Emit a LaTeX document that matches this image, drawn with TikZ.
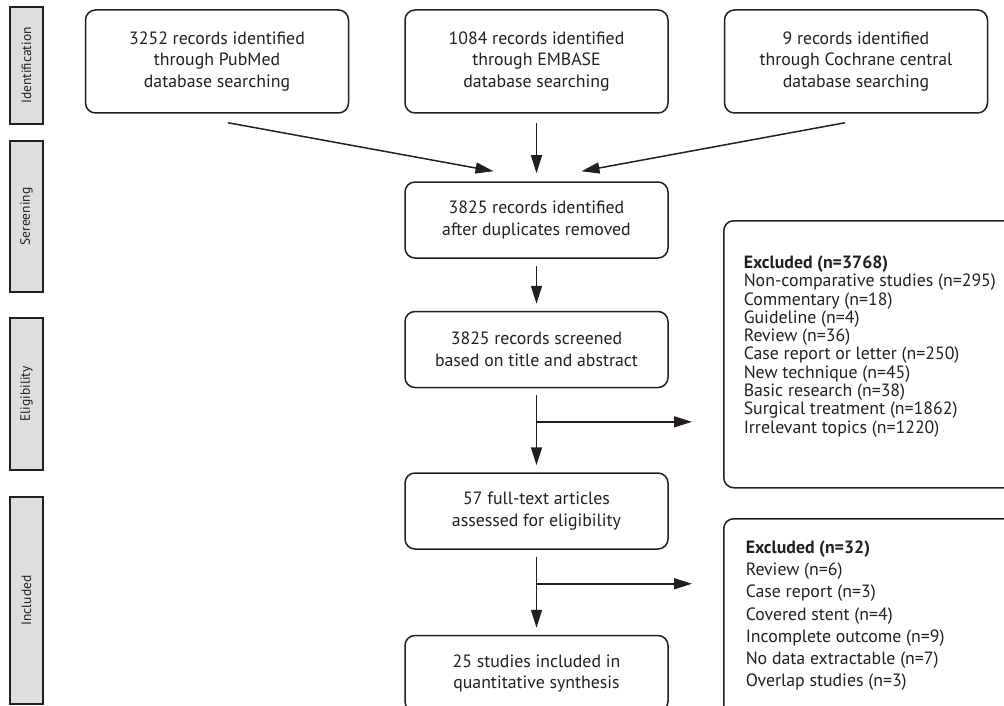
\documentclass[tikz,border=0pt]{standalone}
\usepackage{fontspec}
\setmainfont{PT Sans}
\usetikzlibrary{positioning, calc}
\usetikzlibrary{arrows, arrows.meta}
\tikzset{>={Triangle[length=18pt,width=11pt]}}
\definecolor{ink}{HTML}{231F20}
\colorlet{phasegray}{black!13}

\begin{document}
\begin{tikzpicture}[x=1pt, y=-1pt, line width=1.5pt, color=ink,
  box/.style={draw, rounded corners=10pt, minimum width=263pt, align=center, font=\fontsize{17.8}{21.5}\selectfont},
  phase/.style={draw, fill=phasegray, rotate=90, minimum height=33pt, inner sep=0pt, font=\fontsize{13.5}{15}\selectfont},
  excl/.style={draw, rounded corners=10pt, anchor=north west, minimum width=300pt},
  list/.style={anchor=north west, align=left, inner sep=0pt},
  flow/.style={->, shorten <=7pt, shorten >=7pt}]
  \useasboundingbox (0,0) rectangle (1004,706);

  % phases
  \node[phase, minimum width=117pt] (idphase) at (26.5,65.5) {Identification};
  \node[phase, minimum width=151pt] (scphase) at (26.5,216.5) {Sereening};
  \node[phase, minimum width=152pt] (elphase) at (26.5,394) {Eligibility};
  \node[phase, minimum width=207pt] (inphase) at (26.5,600.5) {Included};

  % sources
  \node[box, minimum height=103pt] (pubmed) at (217,61.5) {3252 records identified\\through PubMed\\database searching};
  \node[box, minimum height=103pt, right=55pt of pubmed] (embase) {1084 records identified\\through EMBASE\\database searching};
  \node[box, minimum height=103pt, right=55pt of embase] (cochrane) {9 records identified\\through Cochrane central\\database searching};

  % main flow
  \node[box, minimum height=76pt] (dedup) at (536.5,220) {3825 records identified\\after duplicates removed};
  \node[box, minimum height=76pt, below=52pt of dedup] (screen) {3825 records screened\\based on title and abstract};
  \node[box, minimum height=76pt, below=84pt of screen] (fulltext) {57 full-text articles\\assessed for eligibility};
  \node[box, minimum height=76pt, below=85pt of fulltext] (included) {25 studies included in\\quantitative synthesis};

  % exclusions
  \node[excl, minimum height=267pt] (excl1) at (723,220) {};
  \node[list, font=\fontsize{17.8}{18.3}\selectfont] (excl1txt) at (743,255) {\textbf{Excluded (n=3768)}\\Non-comparative studies (n=295)\\Commentary (n=18)\\Guideline (n=4)\\Review (n=36)\\Case report or letter (n=250)\\New technique (n=45)\\Basic research (n=38)\\Surgical treatment (n=1862)\\Irrelevant topics (n=1220)};
  \node[excl, minimum height=220pt] (excl2) at (723,518) {};
  \node[list, font=\fontsize{17.8}{22.2}\selectfont] (excl2txt) at (745,540) {\textbf{Excluded (n=32)}\\Review (n=6)\\Case report (n=3)\\Covered stent (n=4)\\Incomplete outcome (n=9)\\No data extractable (n=7)\\Overlap studies (n=3)};

  \draw[->] ($(pubmed.south)+(11,9)$) -- ($(dedup.north)+(-43,-10)$);
  \draw[->] ($(embase.south)+(0,9)$) -- ($(dedup.north)+(0,-8)$);
  \draw[->] ($(cochrane.south)+(-11,9)$) -- ($(dedup.north)+(45,-10)$);
  \draw[flow] (dedup) -- (screen);
  \draw[flow] (screen) -- (fulltext);
  \draw[flow] (fulltext) -- (included);
  \coordinate (split1) at ($(screen.south)!0.4!(fulltext.north)$);
  \coordinate (split2) at ($(fulltext.south)!0.4!(included.north)$);
  \draw[->, shorten >=31pt] (split1) -- (split1 -| excl1.west);
  \draw[->, shorten >=31pt] (split2) -- (split2 -| excl2.west);
\end{tikzpicture}
\end{document}
